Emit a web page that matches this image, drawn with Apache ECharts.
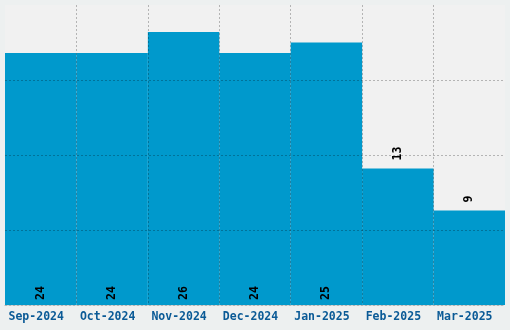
<!DOCTYPE html>
<html><head><meta charset="utf-8">
<script src="https://cdn.jsdelivr.net/npm/echarts@6/dist/echarts.min.js"></script>
<style>html,body{margin:0;padding:0;background:#edf0f0}#c{width:510px;height:330px}</style>
</head><body><div id="c"></div>
<script>
var categories = ['Sep-2024','Oct-2024','Nov-2024','Dec-2024','Jan-2025','Feb-2025','Mar-2025'];
var values = [24, 24, 26, 24, 25, 13, 9];
var yMax = 28.57;
var yInterval = yMax / 4;

var chart = echarts.init(document.getElementById('c'), null, {renderer:'canvas'});
function gridLine(){ return {show:true, interval:0, lineStyle:{color:'rgba(0,0,0,0.25)', width:1, type:[2,2]}, showMinLine:false, showMaxLine:false}; }
var data = values.map(function(v){
  var inside = v >= 20;
  return {value:v, label:{position: inside ? 'insideBottom' : 'top', distance: inside ? 5 : 8}};
});
chart.setOption({
  backgroundColor:'#edf0f0',
  animation:false,
  grid:{left:5,right:5,top:5,bottom:25,show:true,backgroundColor:'#f1f1f1',borderWidth:0},
  xAxis:{type:'category',data:categories,z:3,
    axisLine:{show:true,lineStyle:{color:'rgba(0,0,0,0.25)',type:[2,2]}},
    axisTick:{show:false},
    axisLabel:{interval:0,hideOverlap:false,color:'#0a5a96',fontFamily:'DejaVu Sans Mono',fontWeight:'bold',fontSize:11.5,margin:6,padding:[0,9,0,0]},
    splitLine:gridLine()},
  yAxis:{type:'value',min:0,max:yMax,interval:yInterval,z:3,
    axisLine:{show:false},axisTick:{show:false},axisLabel:{show:false},
    splitLine:gridLine()},
  series:[{type:'bar',data:data,barWidth:'100%',barCategoryGap:0,
    itemStyle:{color:'#0099cc'},
    label:{show:true,rotate:90,align:'left',verticalAlign:'middle',color:'#000',
      fontFamily:'DejaVu Sans Mono',fontWeight:'bold',fontSize:11.5}}]
});
</script></body></html>
